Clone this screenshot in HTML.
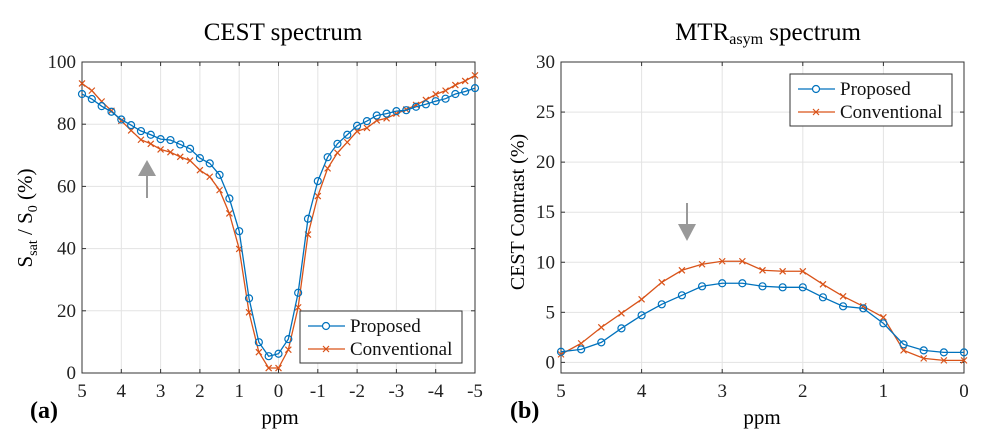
<!DOCTYPE html>
<html><head><meta charset="utf-8"><style>
html,body{margin:0;padding:0;background:#fff}
svg{display:block;font-family:"Liberation Serif",serif}
</style></head><body>
<svg id="fig" width="988" height="447" viewBox="0 0 988 447"></svg>
<script>
const ppmA = [5,4.75,4.5,4.25,4,3.75,3.5,3.25,3,2.75,2.5,2.25,2,1.75,1.5,1.25,1,0.75,0.5,0.25,0,-0.25,-0.5,-0.75,-1,-1.25,-1.5,-1.75,-2,-2.25,-2.5,-2.75,-3,-3.25,-3.5,-3.75,-4,-4.25,-4.5,-4.75,-5];
const proposedA = [89.7,88.1,85.8,84,81.5,79.7,77.8,76.6,75.2,74.9,73.5,72.1,69.1,67.4,63.7,56.1,45.6,24,9.9,5.4,6.2,10.9,25.8,49.6,61.7,69.4,73.7,76.6,79.5,81,82.8,83.4,84.2,84.5,85.6,86.4,87.4,88.2,89.7,90.5,91.6];
const conventionalA = [93.1,90.8,87.3,84.3,81.1,78,75,73.7,71.9,71,69.5,68.3,65.2,63.1,58.8,51.3,39.9,19.5,6.7,1.6,1.6,7.5,21.1,44.5,56.9,65.8,70.8,74.2,77.7,78.8,81.2,81.9,83.4,84.7,86.2,87.8,89.6,90.8,92.6,93.9,95.7];
const xTicksA = [5,4,3,2,1,0,-1,-2,-3,-4,-5];
const yTicksA = [0,20,40,60,80,100];
const ppmB = [5,4.75,4.5,4.25,4,3.75,3.5,3.25,3,2.75,2.5,2.25,2,1.75,1.5,1.25,1,0.75,0.5,0.25,0];
const proposedB = [1.06,1.3,2.0,3.4,4.7,5.8,6.7,7.6,7.9,7.9,7.6,7.5,7.5,6.5,5.6,5.4,3.9,1.8,1.2,1.0,1.0];
const conventionalB = [0.8,1.9,3.5,4.9,6.3,8.0,9.2,9.8,10.1,10.1,9.2,9.1,9.1,7.8,6.6,5.6,4.5,1.2,0.4,0.2,0.2];
const xTicksB = [5,4,3,2,1,0];
const yTicksB = [0,5,10,15,20,25,30];

const NS="http://www.w3.org/2000/svg";
const svg=document.getElementById('fig');
function mk(tag,attrs,parent,text){const e=document.createElementNS(NS,tag);for(const k in attrs)e.setAttribute(k,attrs[k]);if(text!==undefined)e.textContent=text;(parent||svg).appendChild(e);return e;}
const BLUE="#0072bd", ORANGE="#d95319";

function panel(o){
  const g=mk('g',{});
  
  
  const sx=v=>o.x0+(v-o.xmin)/(o.xmax-o.xmin)*(o.x1-o.x0);
  const sy=v=>o.y0-(v-o.ymin)/(o.ymax-o.ymin)*(o.y0-o.y1);
  o.xt.forEach(t=>{const l=mk('line',{x1:sx(t),x2:sx(t),y1:o.y1,y2:o.y0,stroke:'#e3e3e3','stroke-width':1},g);});
  o.yt.forEach(t=>{const l=mk('line',{x1:o.x0,x2:o.x1,y1:sy(t),y2:sy(t),stroke:'#e3e3e3','stroke-width':1},g);});
  const box=mk('rect',{x:o.x0,y:o.y1,width:o.x1-o.x0,height:o.y0-o.y1,fill:'none',stroke:'#333','stroke-width':1},g);
  
  o.xt.forEach(t=>{
    mk('line',{x1:sx(t),x2:sx(t),y1:o.y0,y2:o.y0-4,stroke:'#333'},g);
    mk('line',{x1:sx(t),x2:sx(t),y1:o.y1,y2:o.y1+4,stroke:'#333'},g);
    const tx=mk('text',{x:sx(t),y:o.y0+24,'text-anchor':'middle','font-size':19,fill:'#222'},g,String(t));
    
  });
  o.yt.forEach(t=>{
    mk('line',{x1:o.x0,x2:o.x0+4,y1:sy(t),y2:sy(t),stroke:'#333'},g);
    mk('line',{x1:o.x1,x2:o.x1-4,y1:sy(t),y2:sy(t),stroke:'#333'},g);
    const ty=mk('text',{x:o.x0-6,y:sy(t)+6,'text-anchor':'end','font-size':19,fill:'#222'},g,String(t));
    
  });
  function series(xs,ys,color,marker,nm){
    const sg=mk('g',{},g);
    
    mk('polyline',{points:xs.map((x,i)=>sx(x)+','+sy(ys[i])).join(' '),fill:'none',stroke:color,'stroke-width':1.3},sg);
    xs.forEach((x,i)=>{
      const cx=sx(x),cy=sy(ys[i]);
      if(marker==='o'){const c=mk('circle',{cx:cx,cy:cy,r:3.5,fill:'none',stroke:color,'stroke-width':1.2},sg);}
      else{const p=mk('path',{d:`M${cx-3},${cy-3}L${cx+3},${cy+3}M${cx-3},${cy+3}L${cx+3},${cy-3}`,stroke:color,'stroke-width':1.2},sg);}
    });
  }
  series(o.xs,o.cv,ORANGE,'x','conventional-series');
  series(o.xs,o.pr,BLUE,'o','proposed-series');
  const L=o.leg;
  const lg=mk('g',{},g);
  
  mk('rect',{x:L.x,y:L.y,width:162,height:52,fill:'#fff',stroke:'#333','stroke-width':1},lg);
  [[BLUE,'o','Proposed',L.y+15],[ORANGE,'x','Conventional',L.y+38]].forEach(([c,m,t,yy])=>{
    const e=mk('g',{},lg);
    mk('line',{x1:L.x+8,x2:L.x+45,y1:yy,y2:yy,stroke:c,'stroke-width':1.3},e);
    const cx=L.x+26;
    if(m==='o')mk('circle',{cx:cx,cy:yy,r:3.5,fill:'#fff',stroke:c,'stroke-width':1.2},e);
    else mk('path',{d:`M${cx-3},${yy-3}L${cx+3},${yy+3}M${cx-3},${yy+3}L${cx+3},${yy-3}`,stroke:c,'stroke-width':1.2},e);
    mk('text',{x:L.x+50,y:yy+6,'font-size':19,fill:'#111'},e,t);
  });
  return {sx,sy};
}

panel({name:'cest-spectrum-chart',x0:82,x1:475,y0:373,y1:62,xmin:5,xmax:-5,ymin:0,ymax:100,xt:xTicksA,yt:yTicksA,xs:ppmA,pr:proposedA,cv:conventionalA,leg:{x:300,y:311}});
panel({name:'mtrasym-spectrum-chart',x0:561,x1:964,y0:373,y1:62,xmin:5,xmax:0,ymin:-1.06,ymax:30,xt:xTicksB,yt:yTicksB,xs:ppmB,pr:proposedB,cv:conventionalB,leg:{x:790,y:74}});
</script>
<svg width="988" height="447" style="position:absolute;left:0;top:0">
  <text x="283" y="40" text-anchor="middle" font-size="25" font-family="Liberation Serif,serif">CEST spectrum</text>
  <text x="768" y="40" text-anchor="middle" font-size="25" font-family="Liberation Serif,serif">MTR<tspan font-size="16" dy="4">asym</tspan><tspan dy="-4"> spectrum</tspan></text>
  <text transform="translate(32,218) rotate(-90)" text-anchor="middle" font-size="21" font-family="Liberation Serif,serif">S<tspan font-size="14" dy="5">sat</tspan><tspan dy="-5"> / S</tspan><tspan font-size="14" dy="5">0</tspan><tspan dy="-5"> (%)</tspan></text>
  <text transform="translate(524,212) rotate(-90)" text-anchor="middle" font-size="20" font-family="Liberation Serif,serif">CEST Contrast (%)</text>
  <text x="280" y="424" text-anchor="middle" font-size="21" font-family="Liberation Serif,serif">ppm</text>
  <text x="762" y="424" text-anchor="middle" font-size="21" font-family="Liberation Serif,serif">ppm</text>
  <text x="30" y="418" font-size="24" font-weight="bold" font-family="Liberation Serif,serif">(a)</text>
  <text x="510" y="418" font-size="24" font-weight="bold" font-family="Liberation Serif,serif">(b)</text>
  <g><line x1="147" y1="174" x2="147" y2="198" stroke="#999" stroke-width="2"/><polygon points="138,176 156,176 147,160" fill="#999"/></g>
  <g><line x1="687" y1="203" x2="687" y2="226" stroke="#999" stroke-width="2"/><polygon points="678,224 696,224 687,241" fill="#999"/></g>
</svg>
</body></html>
